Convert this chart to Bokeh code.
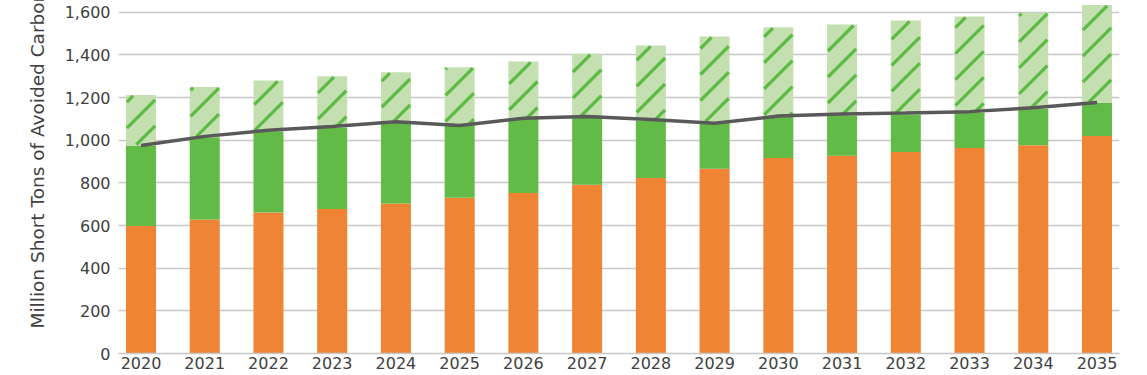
import math
import numpy as np
from bokeh.plotting import figure
from bokeh.models import (ColumnDataSource, Range1d, FixedTicker, NumeralTickFormatter, Title)
from bokeh.transform import stack
from bokeh.embed import file_html
from bokeh.resources import INLINE

# ---- data ----
years = [2020, 2021, 2022, 2023, 2024, 2025, 2026, 2027, 2028, 2029, 2030, 2031, 2032, 2033, 2034, 2035]
orange_vals = [598, 628, 661, 678, 703, 730, 753, 791, 823, 866, 916, 927, 945, 964, 976, 1020]
green_vals = [377, 386, 381, 382, 381, 343, 347, 317, 269, 218, 197, 189, 174, 164, 171, 155]
hatched_vals = [237, 236, 238, 240, 235, 269, 269, 297, 352, 402, 417, 426, 442, 452, 451, 459]
line_vals = [975, 1018, 1047, 1064, 1087, 1069, 1103, 1111, 1097, 1080, 1113, 1123, 1127, 1134, 1152, 1177]
y_ticks = [0, 200, 400, 600, 800, 1000, 1200, 1400, 1600]
y_title = "Million Short Tons of Avoided Carbon Dioxide"

FONT = "DejaVu Sans"
TXT = "#404040"

# ---- layout / style constants ----
FIG_W, FIG_H = 1147, 375
B_LEFT, B_RIGHT, B_TOP, B_BOTTOM = 118, 28, 0, 22
X0, X1 = 2019.647, 2035.353
Y0, Y1 = 0, 1655
W = 0.471
HATCH_STEP = 26.0   # px between stripes (vertical)
HATCH_PHASE = 9.0
HATCH_W = 3.3

src = ColumnDataSource(dict(year=years, orange=orange_vals, green=green_vals,
                            hatched=hatched_vals, line=line_vals))

p = figure(width=FIG_W, height=FIG_H, output_backend="svg", toolbar_location=None,
           x_range=Range1d(X0, X1), y_range=Range1d(Y0, Y1),
           min_border_left=B_LEFT, min_border_right=B_RIGHT,
           min_border_top=B_TOP, min_border_bottom=B_BOTTOM)
p.outline_line_color = None
p.background_fill_color = "white"
p.border_fill_color = "white"

p.vbar(x="year", width=W, bottom=0, top="orange", source=src,
       fill_color="#EE8434", line_color=None)
p.vbar(x="year", width=W, bottom=stack("orange"), top=stack("orange", "green"), source=src,
       fill_color="#62BB46", line_color=None)
p.vbar(x="year", width=W, bottom=stack("orange", "green"), top=stack("orange", "green", "hatched"),
       source=src, fill_color="#C4E0B1", line_color=None)

# 45-degree hatch stripes clipped to the hatched bar segments
frame_w = FIG_W - B_LEFT - B_RIGHT
frame_h = FIG_H - B_TOP - B_BOTTOM
px_x = frame_w / (X1 - X0)
px_y = frame_h / (Y1 - Y0)
inset = 0.9
hx0, hy0, hx1, hy1 = [], [], [], []
for yr, o, g, h in zip(years, orange_vals, green_vals, hatched_vals):
    bx0 = (yr - W / 2 - X0) * px_x + inset
    bx1 = (yr + W / 2 - X0) * px_x - inset
    by0 = (o + g - Y0) * px_y + inset
    by1 = (o + g + h - Y0) * px_y - inset
    cmin, cmax = by0 - bx1, by1 - bx0
    for k in range(math.ceil((cmin - HATCH_PHASE) / HATCH_STEP),
                   math.floor((cmax - HATCH_PHASE) / HATCH_STEP) + 1):
        c = k * HATCH_STEP + HATCH_PHASE
        xa = max(bx0, by0 - c)
        xb = min(bx1, by1 - c)
        if xb - xa > 0.6:
            hx0.append(X0 + xa / px_x); hy0.append(Y0 + (xa + c) / px_y)
            hx1.append(X0 + xb / px_x); hy1.append(Y0 + (xb + c) / px_y)
p.segment(x0=hx0, y0=hy0, x1=hx1, y1=hy1, line_color="#5DBA45",
          line_width=HATCH_W, line_cap="butt")

p.line(x="year", y="line", source=src, line_color="#595959", line_width=3.5)

p.xgrid.visible = False
p.ygrid.grid_line_color = "#C8C8C8"
p.ygrid.grid_line_width = 1.3
p.ygrid.ticker = FixedTicker(ticks=y_ticks)

ya = p.yaxis[0]
ya.ticker = FixedTicker(ticks=y_ticks)
ya.formatter = NumeralTickFormatter(format="0,0")
ya.axis_line_color = None
ya.major_tick_line_color = None
ya.minor_tick_line_color = None
ya.major_tick_out = 0
ya.major_tick_in = 0
ya.major_label_standoff = 8
ya.major_label_text_font = FONT
ya.major_label_text_font_size = "16px"
ya.major_label_text_color = TXT

xa = p.xaxis[0]
xa.ticker = FixedTicker(ticks=years)
xa.axis_line_color = "#C8C8C8"
xa.axis_line_width = 1.3
xa.major_tick_line_color = None
xa.minor_tick_line_color = None
xa.major_tick_out = 0
xa.major_tick_in = 0
xa.major_label_standoff = 3
xa.major_label_text_font = FONT
xa.major_label_text_font_size = "16px"
xa.major_label_text_color = TXT

t = Title(text=y_title, align="left", offset=25, standoff=28,
          text_font=FONT, text_font_size="18.5px", text_font_style="normal",
          text_color=TXT)
p.add_layout(t, "left")

open("out.html", "w").write(file_html(p, INLINE))
